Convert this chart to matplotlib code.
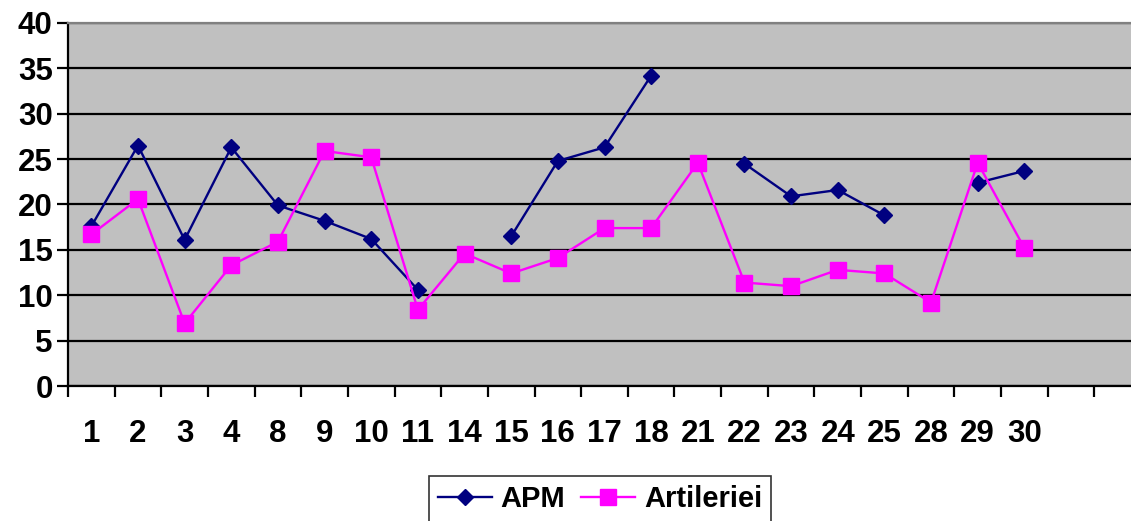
import numpy as np
import matplotlib.pyplot as plt

days = ['1', '2', '3', '4', '8', '9', '10', '11', '14', '15', '16', '17', '18',
        '21', '22', '23', '24', '25', '28', '29', '30']
apm = [17.6, 26.5, 16.1, 26.3, 19.9, 18.2, 16.2, 10.6, np.nan, 16.5, 24.8, 26.3, 34.2,
       np.nan, 24.5, 20.9, 21.6, 18.8, np.nan, 22.4, 23.7]
artileriei = [16.7, 20.6, 6.9, 13.3, 15.9, 25.9, 25.2, 8.4, 14.6, 12.4, 14.1, 17.4, 17.4,
              24.6, 11.4, 11.0, 12.8, 12.4, 9.2, 24.6, 15.2]
n_slots = 23

plt.rcParams['font.family'] = ['Liberation Sans', 'DejaVu Sans']
plt.rcParams['font.weight'] = 'bold'

fig = plt.figure(figsize=(11.31, 5.21), dpi=100)
ax = fig.add_axes([68 / 1131, 1 - 386 / 521, 1073 / 1131, 363 / 521])
ax.set_facecolor('#C0C0C0')

x = np.arange(len(days))
ax.plot(x, apm, color='#000080', lw=1.7, marker='D', ms=8, label='APM', zorder=3)
ax.plot(x, artileriei, color='#FF00FF', lw=1.7, marker='s', ms=11, label='Artileriei', zorder=3)

ax.set_xlim(-0.5, n_slots - 0.5)
ax.set_ylim(0, 40)
ax.set_yticks(range(0, 41, 5))
ax.yaxis.grid(True, color='black', lw=1.6)
ax.set_axisbelow(True)

ax.set_xticks(x)
ax.set_xticklabels(days)
ax.set_xticks(np.arange(-0.5, n_slots, 1), minor=True)
ax.tick_params(axis='x', which='major', length=0, pad=24, labelsize=22.5)
ax.tick_params(axis='x', which='minor', length=8, width=1.6, direction='out')
ax.tick_params(axis='y', length=8, width=1.6, direction='out', labelsize=22.5, pad=3)

ax.spines['top'].set_color('#808080')
ax.spines['top'].set_linewidth(1.6)
ax.spines['left'].set_linewidth(1.6)
ax.spines['bottom'].set_linewidth(1.6)
ax.spines['right'].set_visible(False)

leg = fig.legend(loc='upper left', bbox_to_anchor=(429 / 1131, 1 - 476 / 521), ncol=2,
                 fontsize=21, frameon=True, fancybox=False, edgecolor='black',
                 handlelength=1.85, columnspacing=0.55, handletextpad=0.3,
                 borderpad=0.3, borderaxespad=0)
leg.get_frame().set_linewidth(1.2)

fig.savefig('out.png', dpi=100)
